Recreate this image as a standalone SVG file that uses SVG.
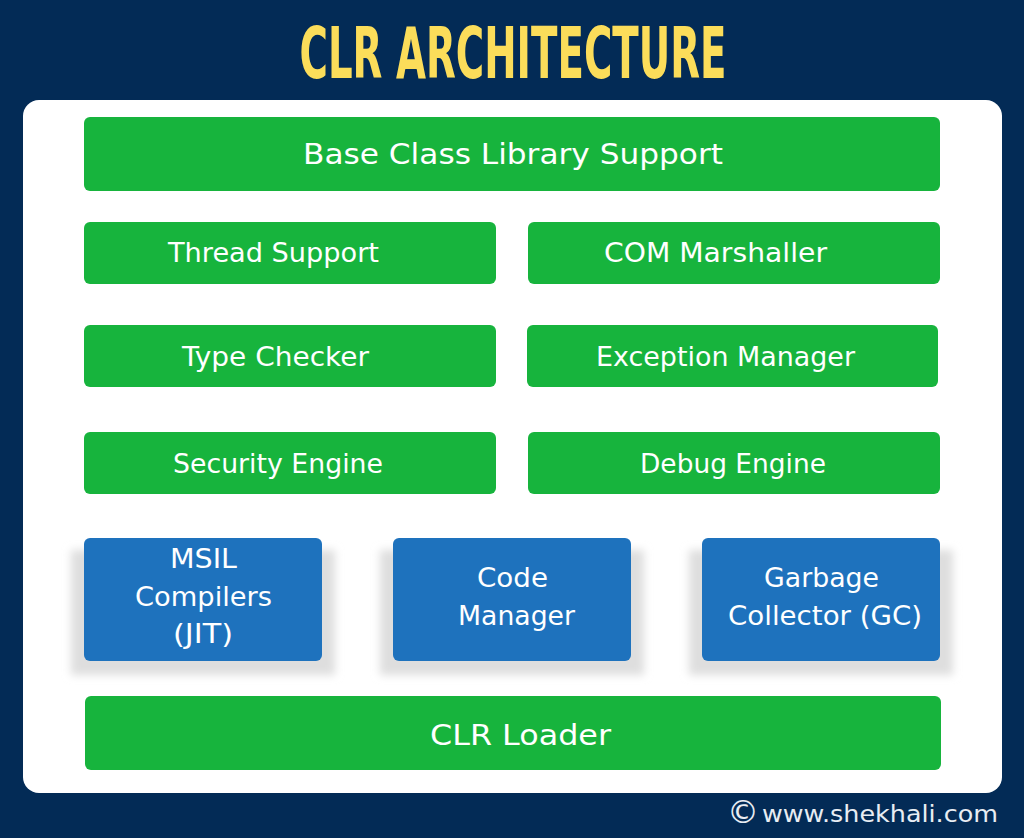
<svg xmlns="http://www.w3.org/2000/svg" width="1024" height="838" viewBox="0 0 1024 838">
<defs>
<filter id="blur" x="-20%" y="-20%" width="140%" height="140%"><feGaussianBlur stdDeviation="4"/></filter>
<style>
.g{fill:#17B43D}
.b{fill:#1E72BD}
.sh{fill:#dedede;filter:url(#blur)}
.t{font-family:"DejaVu Sans","Noto Sans",sans-serif;fill:#ffffff;text-anchor:middle;font-size:26px}
.tl{font-size:29px}
</style>
</defs>
<rect width="1024" height="838" fill="#032B56"/>
<text x="513" y="78" font-family="'Liberation Sans Narrow','DejaVu Sans Condensed','DejaVu Sans',sans-serif" font-weight="bold" font-stretch="condensed" font-size="72" fill="#FBDD5A" text-anchor="middle" textLength="427" lengthAdjust="spacingAndGlyphs">CLR ARCHITECTURE</text>
<rect x="23" y="100" width="979" height="693" rx="16" fill="#ffffff"/>
<g id="bcl"><rect class="g" x="84" y="117" width="856" height="74" rx="6"/><text class="t tl" x="513" y="164" textLength="420" lengthAdjust="spacingAndGlyphs">Base Class Library Support</text></g>
<g id="thread"><rect class="g" x="84" y="222" width="412" height="62" rx="6"/><text class="t" x="273.5" y="262" textLength="211" lengthAdjust="spacingAndGlyphs">Thread Support</text></g>
<g id="com"><rect class="g" x="528" y="222" width="412" height="62" rx="6"/><text class="t" x="715.5" y="262" textLength="223" lengthAdjust="spacingAndGlyphs">COM Marshaller</text></g>
<g id="type"><rect class="g" x="84" y="325" width="412" height="62" rx="6"/><text class="t" x="275.5" y="366" textLength="187" lengthAdjust="spacingAndGlyphs">Type Checker</text></g>
<g id="exc"><rect class="g" x="527" y="325" width="411" height="62" rx="6"/><text class="t" x="725.5" y="366" textLength="259" lengthAdjust="spacingAndGlyphs">Exception Manager</text></g>
<g id="sec"><rect class="g" x="84" y="432" width="412" height="62" rx="6"/><text class="t" x="278" y="473" textLength="210" lengthAdjust="spacingAndGlyphs">Security Engine</text></g>
<g id="dbg"><rect class="g" x="528" y="432" width="412" height="62" rx="6"/><text class="t" x="733" y="473" textLength="186" lengthAdjust="spacingAndGlyphs">Debug Engine</text></g>
<g id="msil"><rect class="sh" x="71" y="550" width="264" height="125"/><rect class="b" x="84" y="538" width="238" height="123" rx="6"/><text class="t" x="203.5" y="568" textLength="67" lengthAdjust="spacingAndGlyphs">MSIL</text><text class="t" x="203.5" y="606" textLength="137" lengthAdjust="spacingAndGlyphs">Compilers</text><text class="t" x="203" y="643" textLength="60" lengthAdjust="spacingAndGlyphs">(JIT)</text></g>
<g id="code"><rect class="sh" x="380" y="550" width="264" height="125"/><rect class="b" x="393" y="538" width="238" height="123" rx="6"/><text class="t" x="512.5" y="587" textLength="71" lengthAdjust="spacingAndGlyphs">Code</text><text class="t" x="516.5" y="625" textLength="117" lengthAdjust="spacingAndGlyphs">Manager</text></g>
<g id="gc"><rect class="sh" x="689" y="550" width="264" height="125"/><rect class="b" x="702" y="538" width="238" height="123" rx="6"/><text class="t" x="821.5" y="587" textLength="115" lengthAdjust="spacingAndGlyphs">Garbage</text><text class="t" x="825" y="625" textLength="194" lengthAdjust="spacingAndGlyphs">Collector (GC)</text></g>
<g id="loader"><rect class="g" x="85" y="696" width="856" height="74" rx="6"/><text class="t tl" x="520.5" y="745" textLength="181" lengthAdjust="spacingAndGlyphs">CLR Loader</text></g>
<g id="connectors"></g>
<text x="743" y="823" font-family="'DejaVu Sans',sans-serif" font-size="32" fill="#E8EDF3" text-anchor="middle">©</text>
<text x="998" y="822" font-family="'DejaVu Sans',sans-serif" font-size="23" fill="#E8EDF3" text-anchor="end" textLength="236" lengthAdjust="spacingAndGlyphs">www.shekhali.com</text>
</svg>
